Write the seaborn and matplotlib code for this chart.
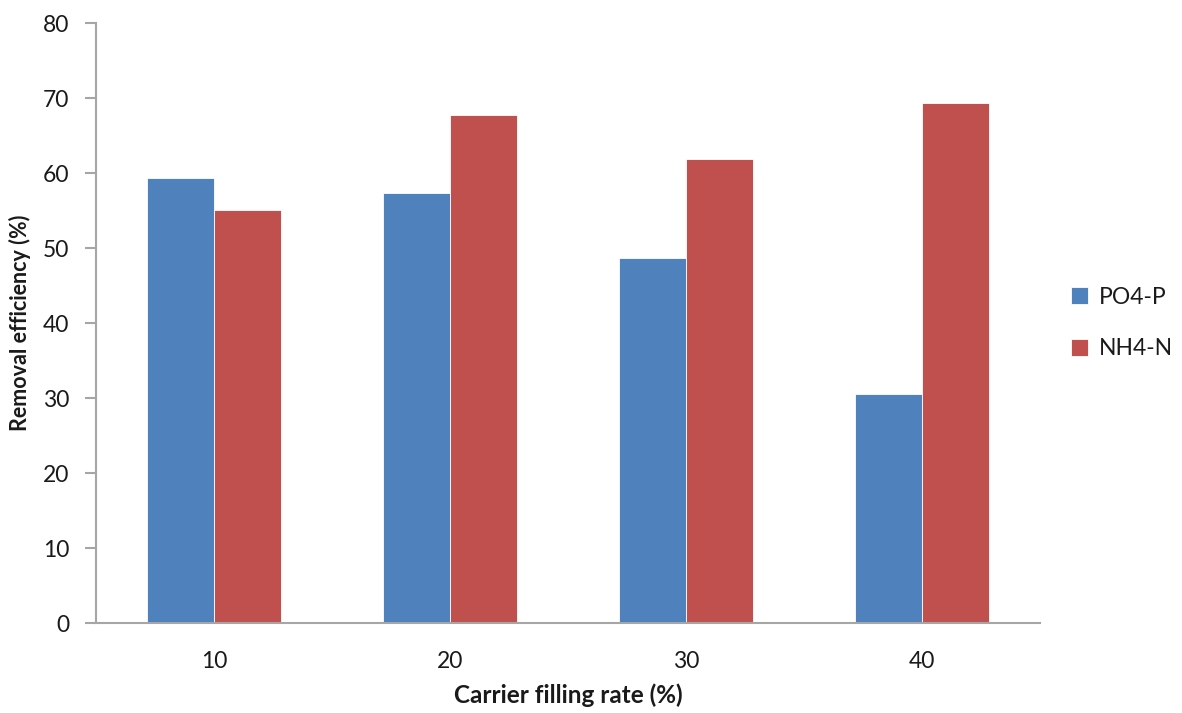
import matplotlib
matplotlib.use("Agg")
import matplotlib.pyplot as plt
import seaborn as sns
import pandas as pd

categories = ["10", "20", "30", "40"]
po4_p = [59.3, 57.3, 48.7, 30.5]
nh4_n = [55.1, 67.7, 61.9, 69.3]
series_names = ["PO4-P", "NH4-N"]
colors = ["#4F81BD", "#C0504D"]

df = pd.DataFrame({
    "cat": categories * 2,
    "val": po4_p + nh4_n,
    "series": [series_names[0]] * 4 + [series_names[1]] * 4,
})

sns.set_style("white")
plt.rcParams["font.family"] = ["Lato", "DejaVu Sans"]

fig = plt.figure(figsize=(11.82, 7.13), dpi=100)
ax = fig.add_axes([0.0812, 0.1262, 0.7987, 0.8415])

sns.barplot(data=df, x="cat", y="val", hue="series", order=categories,
            hue_order=series_names, palette=colors, width=0.57,
            saturation=1, ax=ax, edgecolor="#ffffff", linewidth=0.6)

ax.set_xlim(-0.5, 3.5)
ax.set_ylim(0, 80)
ax.set_yticks(range(0, 81, 10))
for s in ["top", "right"]:
    ax.spines[s].set_visible(False)
for s in ["left", "bottom"]:
    ax.spines[s].set_color("#A6A6A6")
    ax.spines[s].set_linewidth(1.5)
ax.tick_params(axis="y", which="both", left=True, length=8, width=1.5,
               color="#A6A6A6", labelsize=16.5, pad=11, labelcolor="#1a1a1a")
ax.tick_params(axis="x", bottom=False, labelsize=16.5, pad=17, labelcolor="#1a1a1a")

ax.set_xlabel("Carrier filling rate (%)", fontsize=17.5, fontweight="bold",
              color="#1a1a1a", va="center")
ax.set_ylabel("Removal efficiency (%)", fontsize=15.5, fontweight="bold",
              color="#1a1a1a", va="center")
ax.xaxis.set_label_coords(0.5, -0.121)
ax.yaxis.set_label_coords(-0.08, 0.5)

handles, labels = ax.get_legend_handles_labels()
ax.legend(handles, labels, loc="center left", bbox_to_anchor=(1.033, 0.5),
          borderaxespad=0, borderpad=0,
          frameon=False, fontsize=16.5, handlelength=0.75, handleheight=0.75,
          handletextpad=0.45, labelspacing=1.35, labelcolor="#1a1a1a")

fig.savefig("out.png", dpi=100)
